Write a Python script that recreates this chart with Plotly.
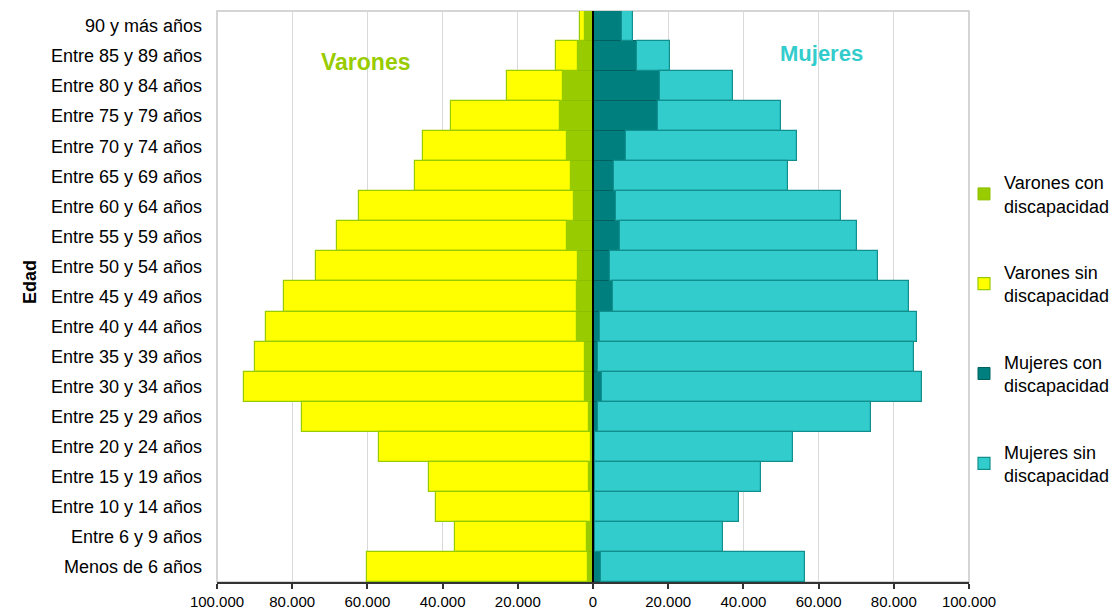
import plotly.graph_objects as go

# Age groups, top to bottom
categorias = [
    "90 y más años", "Entre 85 y 89 años", "Entre 80 y 84 años", "Entre 75 y 79 años",
    "Entre 70 y 74 años", "Entre 65 y 69 años", "Entre 60 y 64 años", "Entre 55 y 59 años",
    "Entre 50 y 54 años", "Entre 45 y 49 años", "Entre 40 y 44 años", "Entre 35 y 39 años",
    "Entre 30 y 34 años", "Entre 25 y 29 años", "Entre 20 y 24 años", "Entre 15 y 19 años",
    "Entre 10 y 14 años", "Entre 6 y 9 años", "Menos de 6 años",
]

varones_con = [2100, 3980, 7970, 8850, 6900, 5840, 5050, 6900, 3900, 4250,
               4250, 2210, 2210, 1150, 450, 1060, 620, 1670, 1400]
varones_sin = [1250, 5920, 14950, 28860, 38250, 41520, 57100, 61180, 69750, 77900,
               82680, 87740, 90660, 76220, 56570, 42580, 41160, 34980, 58630]
mujeres_con = [7800, 11600, 17710, 17180, 8680, 5670, 6110, 7170, 4520, 5310,
               1950, 1240, 2480, 1400, 450, 450, 530, 530, 2120]
mujeres_sin = [2740, 8850, 19470, 32930, 45580, 46300, 59940, 63030, 71260, 78620,
               84190, 84110, 85080, 72520, 52750, 44170, 38170, 34080, 54370]

tick_vals = [-100000, -80000, -60000, -40000, -20000, 0, 20000, 40000, 60000, 80000, 100000]
tick_text = ["100.000", "80.000", "60.000", "40.000", "20.000", "0",
             "20.000", "40.000", "60.000", "80.000", "100.000"]

FONT = "Liberation Sans, Arial, sans-serif"

fig = go.Figure()
fig.add_trace(go.Bar(
    y=categorias, x=[-v for v in varones_con], orientation="h",
    name="Varones con<br>discapacidad", legendgroup="a", legendrank=1,
    marker=dict(color="#99CC00", line=dict(color="#8CBF00", width=1)),
    customdata=varones_con, hovertemplate="%{y}: %{customdata}<extra>Varones con discapacidad</extra>",
))
fig.add_trace(go.Bar(
    y=categorias, x=[-v for v in varones_sin], orientation="h",
    name="Varones sin<br>discapacidad", legendgroup="b", legendrank=2,
    marker=dict(color="#FFFF00", line=dict(color="#99CC00", width=1.2)),
    customdata=varones_sin, hovertemplate="%{y}: %{customdata}<extra>Varones sin discapacidad</extra>",
))
fig.add_trace(go.Bar(
    y=categorias, x=mujeres_con, orientation="h",
    name="Mujeres con<br>discapacidad", legendgroup="c", legendrank=3,
    marker=dict(color="#007F7F", line=dict(color="#006060", width=1)),
    hovertemplate="%{y}: %{x}<extra>Mujeres con discapacidad</extra>",
))
fig.add_trace(go.Bar(
    y=categorias, x=mujeres_sin, orientation="h",
    name="Mujeres sin<br>discapacidad", legendgroup="d", legendrank=4,
    marker=dict(color="#33CCCC", line=dict(color="#118F8F", width=1.2)),
    hovertemplate="%{y}: %{x}<extra>Mujeres sin discapacidad</extra>",
))

PW = 1117 - 217  # paper width in px
fig.update_layout(
    width=1117, height=615,
    margin=dict(l=217, r=0, t=11, b=33, autoexpand=False),
    paper_bgcolor="white", plot_bgcolor="white",
    barmode="relative", bargap=0.0,
    font=dict(family=FONT, size=18, color="#000000"),
    showlegend=True,
    legend=dict(
        x=(964 - 217) / PW, xanchor="left", y=1 - (164 - 11) / 571, yanchor="top",
        font=dict(size=18, family=FONT, color="#000000"),
        traceorder="grouped", tracegroupgap=40, itemwidth=30,
        bgcolor="rgba(0,0,0,0)",
    ),
    xaxis=dict(
        domain=[0, 752 / PW],
        range=[-100000, 100000], tickvals=tick_vals, ticktext=tick_text,
        tickfont=dict(size=15, family=FONT, color="#000000"),
        showgrid=True, gridcolor="#D9D9D9", gridwidth=1,
        zeroline=False, automargin=False,
        showline=True, linecolor="#333333", linewidth=2,
        ticks="outside", ticklen=5, tickcolor="#333333", tickwidth=1.5,
        fixedrange=True,
    ),
    yaxis=dict(
        categoryorder="array", categoryarray=categorias, autorange="reversed",
        tickfont=dict(size=18, family=FONT, color="#000000"),
        showgrid=False, zeroline=False, showline=False, ticks="",
        ticklabelstandoff=14, automargin=False,
    ),
    shapes=[
        dict(type="rect", xref="x domain", yref="y domain", x0=0, x1=1, y0=0, y1=1,
             line=dict(color="#C8C8C8", width=1.5), layer="below"),
        dict(type="line", xref="x", yref="y domain", x0=0, x1=0, y0=0, y1=1,
             line=dict(color="#000000", width=2), layer="above"),
    ],
    annotations=[
        dict(text="<b>Varones</b>", xref="paper", yref="paper",
             x=(366 - 217) / PW, y=1 - (62 - 11) / 571, xanchor="center", yanchor="middle",
             showarrow=False, font=dict(size=23, color="#99CC00", family=FONT)),
        dict(text="<b>Mujeres</b>", xref="paper", yref="paper",
             x=(821 - 217) / PW, y=1 - (53 - 11) / 571, xanchor="center", yanchor="middle",
             showarrow=False, font=dict(size=22, color="#33CCCC", family=FONT)),
        dict(text="<b>Edad</b>", xref="paper", yref="paper",
             x=(30 - 217) / PW, y=1 - (282 - 11) / 571, xanchor="center", yanchor="middle",
             showarrow=False, textangle=-90, font=dict(size=18, color="#000000", family=FONT)),
    ],
)

fig.write_html("out.html", config={"displayModeBar": False},
               post_script="document.body.style.margin='0px';")
